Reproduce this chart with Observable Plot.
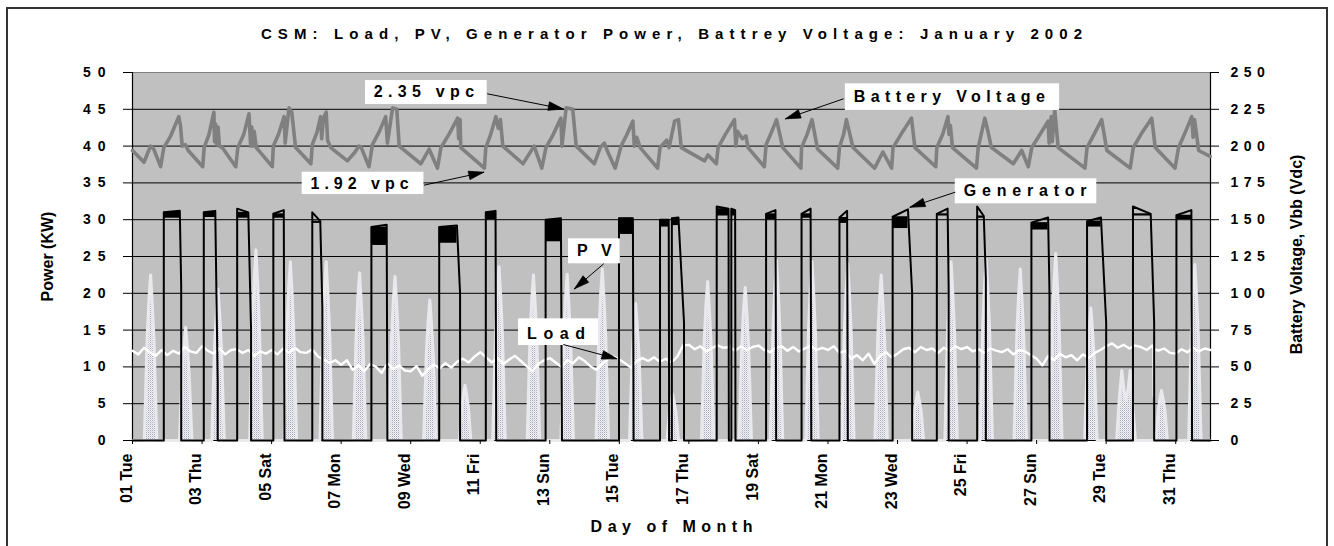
<!DOCTYPE html>
<html><head><meta charset="utf-8">
<script src="https://cdn.jsdelivr.net/npm/d3@7"></script>
<script src="https://cdn.jsdelivr.net/npm/@observablehq/plot@0.6"></script>
<style>
html,body{margin:0;padding:0;background:#fff;overflow:hidden;}
#chart{position:relative;width:1334px;height:546px;}
#chart svg{display:block;}
#border{position:absolute;left:6px;top:7px;width:1322px;height:600px;box-sizing:border-box;border:2px solid #333;}
</style></head><body><div id="chart"><div id="border"></div></div>
<script>
// ---------------- data ----------------
const chartTitle = "CSM: Load, PV, Generator Power, Battrey Voltage: January 2002";
const leftTitle = "Power (KW)";
const rightTitle = "Battery Voltage, Vbb (Vdc)";
const bottomTitle = "Day of Month";

const kwTicks = [0, 5, 10, 15, 20, 25, 30, 35, 40, 45, 50];
const voltTicks = [0, 25, 50, 75, 100, 125, 150, 175, 200, 225, 250];
const dayTicks = [1, 3, 5, 7, 9, 11, 13, 15, 17, 19, 21, 23, 25, 27, 29, 31];
const dayLabels = ["01 Tue", "03 Thu", "05 Sat", "07 Mon", "09 Wed", "11 Fri", "13 Sun", "15 Tue",
  "17 Thu", "19 Sat", "21 Mon", "23 Wed", "25 Fri", "27 Sun", "29 Tue", "31 Thu"];

// Generator runs (day of month, KW)
const genOn      = [1.90, 3.05, 4.01, 5.05, 6.17, 7.87, 9.82, 11.16, 12.88, 14.99, 16.17, 16.51, 17.80, 18.22, 19.22, 20.24, 21.33, 22.86, 24.13, 25.29, 26.85, 28.45, 29.77, 31.02];
const genOff     = [2.36, 3.38, 4.33, 5.35, 6.40, 8.31, 10.33, 11.44, 13.32, 15.39, 16.42, 16.70, 18.14, 18.33, 19.49, 20.50, 21.55, 23.30, 24.44, 25.48, 27.33, 28.85, 30.28, 31.45];
const genDrop    = [2.40, 3.45, 4.41, 5.37, 6.46, 8.33, 10.42, 11.46, 13.35, 15.41, 16.43, 16.86, 18.15, 18.34, 19.51, 20.52, 21.57, 23.42, 24.47, 25.54, 27.37, 29.00, 30.38, 31.47];
const genStartKW = [31.0, 31.0, 31.5, 30.8, 31.0, 29.0, 29.0, 31.0, 30.0, 30.2, 30.0, 30.2, 31.8, 31.5, 30.8, 30.8, 30.3, 30.4, 30.8, 31.8, 29.6, 29.8, 31.8, 30.6];
const genEndKW   = [31.2, 31.2, 31.0, 31.3, 29.8, 29.3, 29.2, 31.2, 30.2, 30.2, 30.0, 30.3, 31.5, 31.3, 31.3, 31.5, 31.2, 31.4, 31.5, 30.5, 30.3, 30.3, 30.8, 31.3];
const genDropKW  = [21, 8, 15, 0, 18, 0, 20, 0, 0, 0, 8, 16, 0, 0, 0, 0, 0, 20, 21, 22, 20, 16, 16, 0];
const genLowKW   = [30.2, 30.3, 30.2, 30.2, 29.5, 26.5, 26.8, 30.0, 27.0, 28.0, 29.0, 29.2, 30.5, 30.5, 30.0, 30.2, 29.5, 28.8, 30.5, 30.2, 28.6, 29.0, 30.5, 30.0];

// PV output [day, KW]
const pvPoints = [
  [1.00,0],
  [1.34,0],[1.42,14],[1.47,19],[1.52,22.5],[1.57,18.5],[1.62,13.5],[1.70,0],
  [2.35,0],[2.43,9.5],[2.48,13],[2.53,15.4],[2.58,12.6],[2.63,9],[2.71,0],
  [3.28,0],[3.36,12.8],[3.41,17.5],[3.46,20.6],[3.51,16.9],[3.56,12.4],[3.64,0],
  [4.37,0],[4.45,16],[4.50,22],[4.55,25.9],[4.60,21.2],[4.65,15.5],[4.73,0],
  [5.36,0],[5.44,15],[5.49,20.7],[5.54,24.3],[5.59,19.9],[5.64,14.6],[5.72,0],
  [6.39,0],[6.47,15],[6.52,20.7],[6.57,24.3],[6.62,19.9],[6.67,14.6],[6.75,0],
  [7.35,0],[7.43,14.1],[7.48,19.4],[7.53,22.8],[7.58,18.7],[7.63,13.7],[7.71,0],
  [8.37,0],[8.45,13.8],[8.50,19],[8.55,22.3],[8.60,18.3],[8.65,13.4],[8.73,0],
  [9.37,0],[9.45,11.8],[9.50,16.2],[9.55,19.1],[9.60,15.7],[9.65,11.5],[9.73,0],
  [10.40,0],[10.47,4.6],[10.52,6.4],[10.56,7.5],[10.61,6.2],[10.66,4.5],[10.73,0],
  [11.36,0],[11.44,14.6],[11.49,20],[11.54,23.6],[11.59,19.4],[11.64,14.2],[11.72,0],
  [12.35,0],[12.43,14],[12.48,19],[12.53,22.5],[12.58,18.5],[12.63,13.5],[12.71,0],
  [13.32,0],[13.40,14],[13.45,19.2],[13.50,22.6],[13.55,18.5],[13.60,13.6],[13.68,0],
  [14.33,0],[14.41,14.4],[14.46,19.8],[14.51,23.3],[14.56,19.1],[14.61,14],[14.69,0],
  [15.29,0],[15.37,11.5],[15.42,15.8],[15.47,18.6],[15.52,15.3],[15.57,11.2],[15.65,0],
  [16.37,0],[16.44,3.9],[16.49,5.4],[16.53,6.3],[16.58,5.2],[16.63,3.8],[16.70,0],
  [17.36,0],[17.44,13.4],[17.49,18.4],[17.54,21.6],[17.59,17.7],[17.64,13],[17.72,0],
  [18.44,0],[18.52,12.9],[18.57,17.7],[18.62,20.8],[18.67,17.1],[18.72,12.5],[18.80,0],
  [19.34,0],[19.42,15.2],[19.47,20.8],[19.52,24.5],[19.57,20.1],[19.62,14.7],[19.70,0],
  [20.36,0],[20.44,15],[20.49,20.7],[20.54,24.3],[20.59,19.9],[20.64,14.6],[20.72,0],
  [21.39,0],[21.47,14.9],[21.52,20.4],[21.57,24.0],[21.62,19.7],[21.67,14.4],[21.75,0],
  [22.35,0],[22.43,14],[22.48,19],[22.53,22.5],[22.58,18.5],[22.63,13.5],[22.71,0],
  [23.42,0],[23.49,4.1],[23.54,5.6],[23.58,6.6],[23.63,5.4],[23.68,4],[23.75,0],
  [24.36,0],[24.44,15],[24.49,20.7],[24.54,24.3],[24.59,19.9],[24.64,14.6],[24.72,0],
  [25.37,0],[25.45,15.3],[25.50,21],[25.55,24.7],[25.60,20.3],[25.65,14.8],[25.73,0],
  [26.35,0],[26.43,14.4],[26.48,19.8],[26.53,23.3],[26.58,19.1],[26.63,14],[26.71,0],
  [27.37,0],[27.45,15.7],[27.50,21.6],[27.55,25.4],[27.60,20.8],[27.65,15.2],[27.73,0],
  [28.38,0],[28.46,11],[28.51,15.3],[28.56,18],[28.61,14.8],[28.66,10.8],[28.74,0],
  [29.30,0],[29.38,6],[29.45,9.5],[29.52,6.5],[29.57,5.5],[29.63,7],[29.69,9.5],[29.76,5],[29.84,0],
  [30.43,0],[30.50,4.2],[30.55,5.8],[30.59,6.8],[30.64,5.6],[30.69,4.1],[30.76,0],
  [31.37,0],[31.45,14.8],[31.50,20.3],[31.55,23.9],[31.60,19.6],[31.65,14.3],[31.73,0],
  [32.00,0]
];

// Load, sampled every 4 hours from day 1.0 (KW)
const loadStartDay = 1;
const loadSamplesPerDay = 6;
const loadKW = [
  12.2, 11.7, 12.6, 12.0, 11.5, 12.3,
  11.6, 12.2, 11.8, 12.7, 12.1, 11.9,
  12.8, 12.2, 11.8, 12.5, 11.7, 12.3,
  12.4, 11.9, 12.3, 11.5, 12.1, 11.8,
  12.3, 11.7, 12.5, 11.9, 12.6, 12.0,
  11.9, 12.4, 11.4, 11.0, 10.5, 10.9,
  10.3, 10.9, 9.6, 10.2, 9.4, 10.4,
  10.0, 9.2, 10.5, 9.7, 10.2, 9.5,
  9.4, 10.1, 8.8, 9.7, 10.3, 9.8,
  10.5, 9.9, 10.7, 11.1, 10.6, 11.4,
  12.0, 11.3, 10.6, 11.2, 10.4, 11.0,
  11.5, 10.8, 10.1, 9.4, 10.4, 10.9,
  11.2, 10.6, 10.0, 10.9, 10.5, 11.3,
  10.8, 10.1, 9.6, 10.4, 11.0, 11.4,
  11.0, 10.5, 9.9, 10.8, 11.2, 10.8,
  11.3, 10.7, 11.1, 10.6, 11.4, 12.9,
  13.0, 12.4, 12.8, 12.1, 12.6, 12.9,
  12.6, 12.9, 12.2, 12.8, 12.3, 12.7,
  12.9, 12.3, 12.0, 12.6, 12.8, 12.2,
  12.7, 12.1, 12.5, 12.9, 12.3, 12.6,
  12.3, 12.8, 11.9, 12.2, 11.1, 11.6,
  10.9, 11.8, 10.4, 11.5, 12.0, 11.3,
  11.8, 12.4, 12.6, 12.0, 12.7, 12.3,
  12.5, 11.9, 12.6, 12.2, 12.8, 12.4,
  12.7, 12.1, 12.4, 11.9, 12.5, 12.2,
  12.0, 12.4, 11.7, 12.3, 12.1, 11.6,
  11.1, 10.2, 11.5, 10.9, 11.8, 11.3,
  11.6, 10.9, 11.7, 11.2, 11.9, 12.3,
  12.8, 13.2, 12.6, 13.0, 12.5, 12.9,
  12.7, 12.3, 12.9, 12.2, 12.5, 11.9,
  11.8, 12.4, 12.0, 12.6, 12.1, 12.5,
  12.3
];
const loadDips = [[18.16,12.7],[18.17,0.2],[18.18,12.7],[30.36,12.4],[30.37,6.0],[30.38,12.4]];

// Battery voltage [day, Vdc]
const battery = [
  [1.00,197],[1.33,189],[1.45,196],[1.52,200],[1.61,198],[1.81,186],[1.90,199],[2.10,207],[2.33,220],[2.38,214],[2.43,200],[2.52,201],[2.60,197],[3.02,186],
  [3.06,199],[3.20,208],[3.34,223],[3.36,203],[3.39,215],[3.42,201],[3.46,213],[3.50,200],[3.58,199],[3.97,186],
  [4.03,199],[4.20,208],[4.35,222],[4.38,208],[4.40,200],[4.43,213],[4.46,200],[4.50,210],[4.56,199],[5.02,186],
  [5.05,200],[5.20,208],[5.36,220],[5.39,202],[5.50,226],[5.58,223],[5.69,199],[6.13,188],
  [6.17,201],[6.30,209],[6.41,220],[6.44,205],[6.49,219],[6.57,223],[6.61,204],[6.70,199],[7.18,190],[7.40,196],[7.51,200],[7.58,199],[7.80,186],
  [7.90,201],[8.10,210],[8.28,220],[8.33,202],[8.48,226],[8.60,225],[8.67,200],[9.29,188],[9.53,198],[9.77,185],
  [9.87,199],[10.10,208],[10.35,219],[10.38,205],[10.42,218],[10.44,199],[11.12,185],
  [11.16,199],[11.30,208],[11.45,220],[11.52,212],[11.58,218],[11.65,200],[12.23,188],[12.55,200],[12.77,185],
  [12.89,199],[13.10,208],[13.32,219],[13.35,200],[13.47,226],[13.66,225],[13.76,200],[14.28,188],[14.45,199],[14.57,202],[14.65,197],[14.88,185],
  [15.05,200],[15.20,207],[15.39,217],[15.43,200],[15.50,206],[15.60,199],[16.10,185],
  [16.17,199],[16.36,204],[16.43,199],[16.59,217],[16.70,218],[16.78,199],[17.45,190],[17.55,194],[17.79,188],
  [17.84,199],[18.05,208],[18.31,218],[18.35,200],[18.40,210],[18.54,205],[18.64,207],[18.70,199],[19.17,186],
  [19.22,201],[19.35,208],[19.52,218],[19.70,199],[20.22,185],
  [20.24,199],[20.40,208],[20.54,218],[20.70,198],[21.28,185],
  [21.33,199],[21.45,208],[21.53,218],[21.72,199],[22.34,185],[22.58,196],[22.83,185],
  [22.87,199],[23.10,208],[23.40,219],[23.50,199],[24.10,186],
  [24.13,199],[24.30,208],[24.45,220],[24.48,208],[24.52,214],[24.58,199],[25.27,185],
  [25.32,199],[25.51,219],[25.60,210],[25.70,199],[26.33,188],[26.57,197],[26.76,186],
  [26.86,199],[27.10,208],[27.33,217],[27.36,202],[27.42,220],[27.45,203],[27.52,225],[27.62,199],[28.39,185],
  [28.45,199],[28.65,208],[28.87,218],[29.02,197],[29.69,185],
  [29.78,199],[30.00,208],[30.31,219],[30.41,199],[30.98,185],
  [31.08,199],[31.25,208],[31.46,220],[31.50,206],[31.54,218],[31.66,197],[31.99,193]
];

// Callouts: box corners, text centre and arrow (day, KW)
const notes = [
  {label: "2.35 vpc",        bx1: 7.70,  bx2: 11.20, by1: 45.65, by2: 48.91, tx: 9.38,  ty: 47.34, ax1: 11.20, ay1: 47.11, ax2: 13.39, ay2: 45.04},
  {label: "Battery Voltage", bx1: 21.50, bx2: 27.66, by1: 44.84, by2: 48.46, tx: 24.49, ty: 46.66, ax1: 21.45, ay1: 46.43, ax2: 19.78, ay2: 43.71},
  {label: "1.92 vpc",        bx1: 5.88,  bx2: 9.38,  by1: 33.42, by2: 36.45, tx: 7.53,  ty: 34.89, ax1: 9.38,  ay1: 34.69, ax2: 11.10, ay2: 36.45},
  {label: "Generator",       bx1: 24.66, bx2: 28.73, by1: 32.16, by2: 35.56, tx: 26.67, ty: 33.98, ax1: 24.66, ay1: 33.74, ax2: 23.36, ay2: 31.70},
  {label: "PV",              bx1: 13.54, bx2: 15.03, by1: 24.01, by2: 27.40, tx: 14.28, ty: 25.83, ax1: 14.55, ay1: 24.01, ax2: 13.71, ay2: 20.61},
  {label: "Load",            bx1: 12.10, bx2: 14.40, by1: 12.91, by2: 16.53, tx: 13.18, ty: 14.51, ax1: 13.39, ay1: 13.04, ax2: 14.93, ay2: 11.10}
];

// ---------------- build series ----------------
const genLine = [{t: 1, kw: 0}];
genOn.forEach((on, i) => {
  genLine.push({t: on, kw: 0}, {t: on, kw: genStartKW[i]}, {t: genOff[i], kw: genEndKW[i]},
               {t: genDrop[i], kw: genDropKW[i]}, {t: genDrop[i], kw: 0});
});
genLine.push({t: 32, kw: 0});
const genIdx = genOn.map((d, i) => i);

const pvLine = pvPoints.map(([t, kw]) => ({t, kw}));
const loadLine = loadKW.map((kw, i) => ({t: loadStartDay + i / loadSamplesPerDay, kw}))
  .concat(loadDips.map(([t, kw]) => ({t, kw})))
  .sort((a, b) => a.t - b.t);
const battLine = battery.map(([t, v]) => ({t, v}));

// ---------------- layout ----------------
const W = 1334, H = 546, ML = 132, MR = 124, MT = 72, MB = 106;
const xPix = d3.scaleLinear([1, 32], [ML, W - MR]);
const yPix = d3.scaleLinear([0, 50], [H - MB, MT]);
const font = "'Liberation Sans', Arial, Helvetica, sans-serif";

// filled arrowheads (triangles) in data coordinates, derived from the callout arrows
const headLen = 15, headHalf = 4.3;
const arrowHeads = notes.flatMap((d, k) => {
  const sx = xPix(d.ax1), sy = yPix(d.ay1), tx = xPix(d.ax2), ty = yPix(d.ay2);
  const len = Math.hypot(tx - sx, ty - sy), ux = (tx - sx) / len, uy = (ty - sy) / len;
  const bx = tx - headLen * ux, by = ty - headLen * uy;
  return [[tx, ty], [bx - headHalf * uy, by + headHalf * ux], [bx + headHalf * uy, by - headHalf * ux], [tx, ty]]
    .map(([px, py]) => ({id: k, x: xPix.invert(px), y: yPix.invert(py)}));
});

const bold = {fontWeight: "bold", lineAnchor: "middle", textAnchor: "middle"};

const plot = Plot.plot({
  width: W, height: H,
  marginLeft: ML, marginRight: MR, marginTop: MT, marginBottom: MB,
  style: {background: "transparent", fontFamily: font, color: "#000"},
  x: {domain: [1, 32]},
  y: {domain: [0, 50]},
  marks: [
    Plot.frame({fill: "#c0c0c0", stroke: "#808080", strokeWidth: 1}),
    Plot.gridY(kwTicks.slice(1, -1), {stroke: "#000", strokeOpacity: 1, strokeWidth: 1}),
    Plot.ruleX([1, 32], {stroke: "#000", strokeWidth: 1.2}),
    Plot.ruleY([0], {stroke: "#000", strokeWidth: 1.2}),
    // PV (stippled)
    Plot.areaY(pvLine, {x: "t", y: "kw", fill: "url(#pvfill)"}),
    Plot.line(pvLine, {x: "t", y: "kw", stroke: "url(#pvdots)", strokeWidth: 3, strokeLinejoin: "round"}),
    // Load
    Plot.line(loadLine, {x: "t", y: "kw", stroke: "#ffffff", strokeWidth: 2.4}),
    // Generator
    Plot.rect(genIdx, {x1: i => genOn[i], x2: i => genOff[i], y1: i => genLowKW[i], y2: i => Math.min(genStartKW[i], genEndKW[i]), fill: "#000"}),
    Plot.line(genLine, {x: "t", y: "kw", stroke: "#000", strokeWidth: 2}),
    // Battery voltage (right axis, 250 Vdc = 50 KW)
    Plot.line(battLine, {x: "t", y: d => d.v / 5, stroke: "#808080", strokeWidth: 3.6, strokeLinejoin: "round"}),
    // Axes
    Plot.axisY(kwTicks, {anchor: "left", tickSize: 9, tickPadding: 11, fontSize: 14, fontWeight: "bold", label: null, tickFormat: d => String(d)}),
    Plot.axisY(voltTicks.map(v => v / 5), {anchor: "right", tickSize: 8, tickPadding: 12, fontSize: 14, fontWeight: "bold", label: null, tickFormat: d => String(Math.round(d * 5))}),
    Plot.axisX(dayTicks, {anchor: "bottom", tickSize: 4, tickPadding: 9, tickRotate: -90, fontSize: 16, fontWeight: "bold", label: null,
      tickFormat: d => dayLabels[dayTicks.indexOf(d)]}),
    // Titles
    Plot.text([chartTitle], {...bold, text: d => d, frameAnchor: "top", dy: -38.7, fontSize: 15}),
    Plot.text([leftTitle], {...bold, text: d => d, frameAnchor: "left", dx: -84.5, rotate: -90, fontSize: 16}),
    Plot.text([rightTitle], {...bold, text: d => d, frameAnchor: "right", dx: 86.7, dy: -2, rotate: -90, fontSize: 16}),
    Plot.text([bottomTitle], {...bold, text: d => d, frameAnchor: "bottom", dy: 86.4, fontSize: 16}),
    // Callouts
    Plot.rect(notes, {x1: "bx1", x2: "bx2", y1: "by1", y2: "by2", fill: "#fff"}),
    Plot.link(notes, {x1: "ax1", y1: "ay1", x2: "ax2", y2: "ay2", stroke: "#000", strokeWidth: 1}),
    Plot.line(arrowHeads, {x: "x", y: "y", z: "id", fill: "#000", stroke: "#000", strokeWidth: 0.8}),
    Plot.text(notes, {...bold, x: "tx", y: "ty", text: "label", fontSize: 16, fill: "#000"})
  ]
});

// stipple patterns for PV
const ns = "http://www.w3.org/2000/svg";
const defs = document.createElementNS(ns, "defs");
defs.innerHTML =
  '<pattern id="pvdots" patternUnits="userSpaceOnUse" width="2" height="2">' +
  '<rect width="2" height="2" fill="#ffffff"/><rect width="1" height="1" fill="#a4a4b8"/></pattern>' +
  '<pattern id="pvfill" patternUnits="userSpaceOnUse" width="2" height="2">' +
  '<rect width="2" height="2" fill="#f4f4f8"/><rect width="1" height="1" fill="#a8a8bc"/><rect x="1" y="1" width="1" height="1" fill="#d4d4de"/></pattern>';
plot.insertBefore(defs, plot.firstChild);

// letter spacing of the spaced-out texts
const spacing = new Map([
  [chartTitle, 6.1], [bottomTitle, 5.5],
  ["2.35 vpc", 5.3], ["Battery Voltage", 5.35], ["1.92 vpc", 5.0], ["Generator", 5.8], ["PV", 13.5], ["Load", 6.6]
]);
plot.querySelectorAll("text").forEach(t => {
  const ls = spacing.get(t.textContent);
  if (ls != null) { t.style.letterSpacing = ls + "px"; t.setAttribute("dx", ls / 2); }
});
const yLabelGroups = plot.querySelectorAll('g[aria-label="y-axis tick label"]');
if (yLabelGroups[0]) yLabelGroups[0].querySelectorAll("text").forEach(t => t.style.letterSpacing = "7px");
if (yLabelGroups[1]) yLabelGroups[1].querySelectorAll("text").forEach(t => t.style.letterSpacing = "5.5px");
const xLab = plot.querySelector('g[aria-label="x-axis tick label"]');
if (xLab) xLab.setAttribute("transform", ((xLab.getAttribute("transform") || "") + " translate(-6,0)").trim());

document.getElementById("chart").insertBefore(plot, document.getElementById("border"));
</script></body></html>
